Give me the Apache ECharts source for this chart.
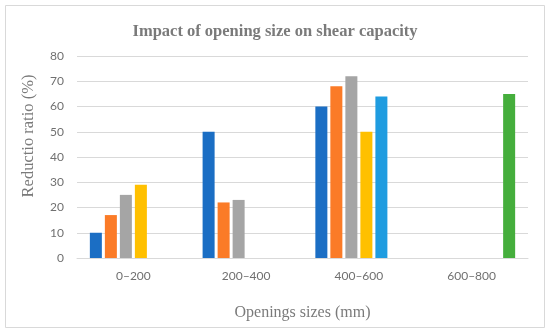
<!DOCTYPE html>
<html>
<head>
<meta charset="utf-8">
<script src="https://cdn.jsdelivr.net/npm/echarts@6/dist/echarts.min.js"></script>
<style>
html,body{margin:0;padding:0;background:#fff;}
#chart{width:550px;height:334px;}
</style>
</head>
<body>
<div id="chart"></div>
<script>
const categories = ['0–200', '200–400', '400–600', '600–800'];
const seriesA = [10, 50, 60, '-'];
const seriesB = [17, 22, 68, '-'];
const seriesC = [25, 23, 72, '-'];
const seriesD = [29, '-', 50, '-'];
const seriesE = ['-', '-', 64, '-'];
const seriesF = ['-', '-', '-', 65];
const yTicks = { min: 0, max: 80, interval: 10 };
const colors = ['#1b6ec4', '#fb7b27', '#a5a5a5', '#ffc000', '#1f9ce0', '#45ae3c'];

const chart = echarts.init(document.getElementById('chart'), null, { renderer: 'canvas' });
const mk = (data, i) => ({
  type: 'bar', data: data, barGap: '25%', barCategoryGap: '22.8%',
  itemStyle: { color: colors[i] }
});
chart.setOption({
  animation: false,
  backgroundColor: '#fff',
  graphic: [{
    type: 'rect', shape: { x: 5.5, y: 5.5, width: 539, height: 322 },
    style: { fill: 'none', stroke: '#d9d9d9', lineWidth: 1 }, silent: true
  }],
  title: {
    text: 'Impact of opening size on shear capacity',
    left: 'center', top: 18,
    textStyle: { fontFamily: 'Liberation Serif', fontSize: 16.5, fontWeight: 'bold', color: '#7a7a7a' }
  },
  grid: { left: 77, right: 22, top: 56, bottom: 76 },
  xAxis: {
    type: 'category', data: categories,
    name: 'Openings sizes (mm)', nameLocation: 'middle', nameGap: 47,
    nameTextStyle: { fontFamily: 'Liberation Serif', fontSize: 16, color: '#7a7a7a' },
    axisLine: { lineStyle: { color: '#d9d9d9' } },
    axisTick: { show: false },
    axisLabel: { color: '#707070', fontFamily: 'Lato', fontSize: 12, margin: 12 }
  },
  yAxis: {
    type: 'value', min: yTicks.min, max: yTicks.max, interval: yTicks.interval,
    name: 'Reductio ratio (%)', nameLocation: 'middle', nameGap: 40,
    nameTextStyle: { fontFamily: 'Liberation Serif', fontSize: 16.5, color: '#7a7a7a', padding: [0, 0, 0, 42] },
    axisLine: { show: false }, axisTick: { show: false },
    splitLine: { lineStyle: { color: '#d9d9d9' } },
    axisLabel: { color: '#707070', fontFamily: 'Lato', fontSize: 12, margin: 13 }
  },
  series: [mk(seriesA, 0), mk(seriesB, 1), mk(seriesC, 2), mk(seriesD, 3), mk(seriesE, 4), mk(seriesF, 5)]
});
</script>
</body>
</html>
